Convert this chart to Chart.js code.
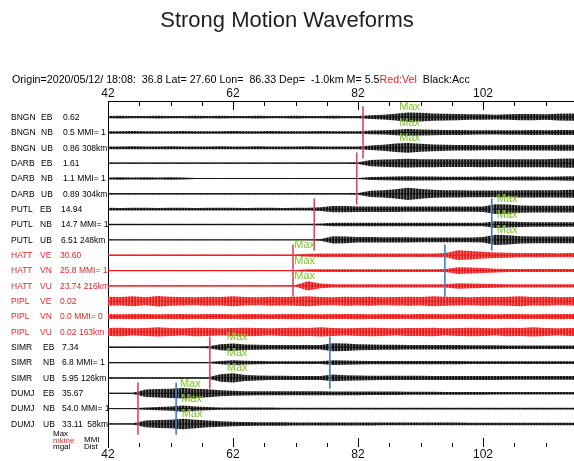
<!DOCTYPE html>
<html>
<head>
<meta charset="utf-8">
<title>Strong Motion Waveforms</title>
<script src="https://cdn.jsdelivr.net/npm/chart.js@4.4.1/dist/chart.umd.min.js"></script>
<style>
  html, body { margin: 0; padding: 0; background: #fff; overflow: hidden; }
  #wrap { width: 574px; height: 461px; overflow: hidden; }
  canvas { display: block; }
</style>
</head>
<body>
<div id="wrap"><canvas id="wave" width="600" height="461"></canvas></div>
<script>
// event header
const originTime = '2020/05/12/ 18:08:  36.8';
const lat = '27.60';
const lon = '86.33';
const depth = '-1.0';
const magnitude = '5.5';

// stations, top to bottom
const stations = ['BNGN', 'DARB', 'PUTL', 'HATT', 'PIPL', 'SIMR', 'DUMJ'];
const units = ['acc', 'acc', 'acc', 'vel', 'vel', 'acc', 'acc'];
const components = { acc: ['EB', 'NB', 'UB'], vel: ['VE', 'VN', 'VU'] };
const peakValues = ['0.62', '0.5', '0.86', '1.61', '1.1', '0.89', '14.94', '14.7', '6.51',
  '30.60', '25.8', '23.74', '0.02', '0.0', '0.02', '7.34', '6.8', '5.95', '35.67', '54.0', '33.11'];
const mmi = [1, 1, 1, 1, 0, 1, 1];
const distKm = [308, 304, 248, 216, 163, 126, 58];

// phase picks (seconds), null = none
const pTimes = [82.8, 81.8, 75.0, 71.6, null, 58.3, 46.8];
const sTimes = [null, null, 103.4, 95.9, null, 77.5, 52.9];
// time of peak per trace
const maxTimes = [88.6, 88.6, 88.6, null, null, null, 104.2, 104.2, 104.2,
  71.8, 71.8, 71.8, null, null, null, 61.0, 61.0, 61.0, 53.5, 53.7, 53.8];

const xTicks = [42, 62, 82, 102];

// envelope sample times
const times = [42, 44, 46, 48, 50, 52, 54, 56, 58, 60,
  62, 64, 66, 68, 70, 72, 74, 76, 78, 80,
  82, 84, 86, 88, 90, 92, 94, 96, 98, 100,
  102, 104, 106, 108, 110, 112, 114, 116, 118];

// half amplitude of each trace, in hundredths of the trace spacing
const bngnEB = [8, 9, 8, 8, 9, 8, 8, 9, 8, 9,  8, 8, 9, 8, 8, 9, 8, 8, 9, 8,  8, 12, 15, 22, 30, 28, 24, 22, 20, 18,  18, 16, 18, 20, 20, 18, 22, 24, 22];
const bngnNB = [8, 8, 9, 8, 8, 8, 9, 8, 8, 8,  9, 8, 8, 9, 8, 8, 8, 9, 8, 8,  8, 12, 14, 18, 22, 20, 18, 16, 16, 15,  14, 14, 15, 15, 16, 15, 16, 16, 15];
const bngnUB = [9, 9, 10, 9, 9, 10, 9, 9, 9, 10,  9, 9, 10, 9, 9, 9, 10, 9, 9, 9,  9, 15, 20, 28, 32, 26, 22, 20, 18, 18,  16, 16, 18, 18, 18, 18, 20, 20, 18];
const darbEB = [4, 4, 4, 4, 4, 4, 4, 4, 4, 4,  4, 4, 4, 4, 4, 4, 4, 4, 4, 4,  6, 20, 24, 26, 28, 26, 26, 25, 25, 25,  26, 25, 26, 26, 26, 26, 28, 30, 28];
const darbNB = [7, 8, 7, 8, 7, 8, 7, 3, 3, 3,  3, 3, 3, 3, 3, 3, 3, 3, 3, 3,  3, 10, 12, 13, 14, 13, 13, 12, 12, 12,  13, 12, 12, 13, 13, 12, 13, 14, 13];
const darbUB = [5, 5, 5, 5, 5, 5, 5, 5, 5, 5,  5, 5, 5, 5, 5, 5, 5, 5, 5, 5,  6, 20, 24, 30, 40, 32, 26, 24, 24, 22,  22, 22, 22, 24, 24, 24, 24, 26, 24];
const putlEB = [9, 8, 9, 9, 8, 9, 9, 8, 9, 9,  9, 8, 9, 9, 8, 9, 9, 12, 20, 20,  18, 18, 18, 18, 17, 17, 17, 17, 17, 17,  18, 32, 30, 24, 22, 22, 22, 22, 22];
const putlNB = [5, 5, 5, 5, 5, 5, 5, 5, 5, 5,  5, 5, 5, 5, 5, 5, 5, 7, 12, 12,  12, 12, 11, 11, 11, 11, 11, 11, 11, 11,  12, 22, 20, 16, 15, 15, 15, 15, 15];
const putlUB = [3, 3, 3, 3, 3, 3, 3, 3, 3, 3,  3, 3, 3, 3, 3, 3, 3, 6, 24, 22,  18, 18, 17, 17, 17, 16, 16, 16, 16, 16,  18, 34, 30, 24, 22, 22, 22, 22, 22];
const hattVE = [5, 5, 5, 5, 5, 5, 5, 5, 5, 5,  5, 5, 5, 5, 5, 5, 10, 11, 11, 11,  11, 11, 11, 11, 11, 11, 11, 14, 32, 28,  22, 18, 16, 14, 14, 14, 12, 14, 12];
const hattVN = [4, 4, 4, 4, 4, 4, 4, 4, 4, 4,  4, 4, 4, 4, 4, 4, 8, 9, 9, 9,  9, 9, 9, 9, 9, 9, 9, 10, 22, 20,  16, 12, 10, 10, 10, 10, 10, 10, 10];
const hattVU = [4, 4, 4, 4, 4, 4, 4, 4, 4, 4,  4, 4, 4, 4, 4, 6, 30, 16, 10, 10,  10, 10, 10, 10, 10, 10, 10, 10, 18, 16,  14, 12, 10, 10, 10, 10, 10, 10, 10];
const piplVE = [30, 28, 32, 26, 34, 30, 28, 26, 30, 28,  32, 28, 26, 30, 28, 30, 32, 28, 26, 30,  28, 30, 26, 28, 30, 28, 32, 30, 28, 26,  30, 28, 30, 32, 28, 30, 26, 28, 30];
const piplVN = [16, 15, 17, 16, 15, 16, 17, 15, 16, 16,  15, 17, 16, 15, 16, 17, 16, 15, 16, 16,  17, 15, 16, 16, 15, 17, 16, 15, 16, 16,  17, 15, 16, 16, 15, 16, 17, 16, 15];
const piplVU = [26, 28, 24, 26, 30, 26, 24, 28, 26, 24,  26, 28, 26, 24, 26, 28, 26, 30, 26, 24,  26, 28, 26, 24, 26, 26, 28, 24, 26, 28,  26, 24, 28, 26, 30, 26, 24, 26, 28];
const simrEB = [5, 5, 5, 5, 5, 5, 5, 5, 6, 20,  24, 18, 16, 14, 14, 14, 14, 15, 26, 24,  20, 18, 16, 16, 15, 15, 14, 14, 14, 13,  13, 13, 12, 12, 12, 12, 12, 12, 12];
const simrNB = [4, 4, 4, 4, 4, 4, 4, 4, 4, 10,  16, 12, 10, 9, 9, 9, 9, 9, 16, 14,  12, 11, 10, 10, 10, 10, 10, 10, 10, 9,  9, 9, 9, 9, 9, 9, 9, 9, 9];
const simrUB = [5, 5, 5, 5, 5, 5, 5, 5, 5, 24,  30, 20, 16, 14, 14, 13, 13, 13, 22, 18,  16, 15, 14, 14, 14, 14, 13, 13, 13, 13,  13, 13, 12, 12, 12, 12, 12, 12, 12];
const dumjEB = [4, 4, 4, 24, 28, 30, 34, 30, 26, 20,  16, 14, 13, 13, 13, 13, 13, 13, 12, 12,  12, 11, 11, 11, 10, 10, 10, 9, 9, 9,  9, 8, 8, 8, 8, 8, 8, 8, 8];
const dumjNB = [3, 3, 3, 8, 10, 14, 20, 14, 10, 8,  7, 7, 7, 7, 6, 6, 6, 6, 6, 6,  6, 6, 6, 6, 6, 6, 5, 5, 5, 5,  5, 5, 5, 5, 5, 5, 5, 5, 5];
const dumjUB = [4, 4, 4, 22, 26, 28, 34, 28, 22, 18,  15, 13, 12, 11, 11, 10, 10, 10, 10, 10,  10, 10, 9, 9, 9, 9, 9, 9, 9, 8,  8, 8, 8, 8, 8, 8, 8, 8, 8];

const traceAmps = [bngnEB, bngnNB, bngnUB, darbEB, darbNB, darbUB, putlEB, putlNB, putlUB,
  hattVE, hattVN, hattVU, piplVE, piplVN, piplVU, simrEB, simrNB, simrUB, dumjEB, dumjNB, dumjUB];

const FONT = '"Liberation Sans", Arial, Helvetica, sans-serif';
const COLORS = {
  acc: '#111111',
  vel: '#f01818',
  velText: '#e3262a',
  pick: '#dc4660',
  sPick: '#3f7cc4',
  max: '#7cc520'
};

function traceColor(i) {
  return units[Math.floor(i / 3)] === 'vel' ? COLORS.vel : COLORS.acc;
}

// thin vertical hatching so a band reads like a dense wiggle trace
function hatch(color) {
  const c = document.createElement('canvas');
  c.width = 3;
  c.height = 1;
  const g = c.getContext('2d');
  g.fillStyle = color;
  g.fillRect(0, 0, 1, 1);
  g.globalAlpha = 0.6;
  g.fillRect(1, 0, 1, 1);
  g.globalAlpha = 0.9;
  g.fillRect(2, 0, 1, 1);
  return g.createPattern(c, 'repeat');
}
const fills = { acc: hatch(COLORS.acc), vel: hatch(COLORS.vel) };

// each trace: baseline plus an envelope band around it
const datasets = [];
traceAmps.forEach((amp, i) => {
  const u = units[Math.floor(i / 3)];
  const color = traceColor(i);
  datasets.push({
    data: times.map((t, k) => ({ x: t, y: i - amp[k] / 100 })),
    borderWidth: 0,
    pointRadius: 0,
    tension: 0,
    fill: false
  });
  datasets.push({
    data: times.map((t, k) => ({ x: t, y: i + amp[k] / 100 })),
    borderWidth: 0,
    pointRadius: 0,
    tension: 0,
    fill: '-1',
    backgroundColor: fills[u]
  });
  datasets.push({
    data: times.map(t => ({ x: t, y: i })),
    borderColor: color,
    borderWidth: 1,
    pointRadius: 0,
    fill: false
  });
});

const overlay = {
  id: 'overlay',
  afterDraw(chart) {
    const { ctx, chartArea, scales } = chart;
    const x = scales.x;
    const y = scales.y;
    ctx.save();

    // tick marks, pointing into the plot
    ctx.strokeStyle = '#000';
    ctx.lineWidth = 1;
    for (let v = 42; v <= x.max; v += 5) {
      const px = Math.round(x.getPixelForValue(v)) + 0.5;
      const major = (v - 42) % 20 === 0;
      ctx.beginPath();
      ctx.moveTo(px, chartArea.top);
      ctx.lineTo(px, chartArea.top + (major ? 9 : 5));
      ctx.moveTo(px, chartArea.bottom);
      ctx.lineTo(px, chartArea.bottom - (major ? 9 : 4));
      ctx.stroke();
    }

    // phase picks
    ctx.lineWidth = 1.6;
    stations.forEach((s, n) => {
      const top = Math.max(y.getPixelForValue(n * 3 - 0.7), chartArea.top + 4);
      const bottom = y.getPixelForValue(n * 3 + 2.7);
      [[pTimes[n], COLORS.pick], [sTimes[n], COLORS.sPick]].forEach(([t, c]) => {
        if (t === null) return;
        const px = x.getPixelForValue(t);
        ctx.strokeStyle = c;
        ctx.beginPath();
        ctx.moveTo(px, top);
        ctx.lineTo(px, bottom);
        ctx.stroke();
      });
    });

    // peak markers
    ctx.font = '11px ' + FONT;
    ctx.fillStyle = COLORS.max;
    ctx.textBaseline = 'middle';
    ctx.textAlign = 'left';
    maxTimes.forEach((t, i) => {
      if (t === null) return;
      ctx.fillText('Max', x.getPixelForValue(t), y.getPixelForValue(i - 0.64));
    });

    // trace labels
    const compX = { BNGN: 41, DARB: 41, PUTL: 40, HATT: 40, PIPL: 40, SIMR: 43, DUMJ: 43 };
    const valX = { BNGN: 63, DARB: 63, PUTL: 61, HATT: 60, PIPL: 60, SIMR: 62, DUMJ: 62 };
    ctx.font = '8.5px ' + FONT;
    stations.forEach((s, n) => {
      const u = units[n];
      ctx.fillStyle = u === 'vel' ? COLORS.velText : '#000';
      for (let j = 0; j < 3; j++) {
        const i = n * 3 + j;
        const py = y.getPixelForValue(i) + 0.5;
        let val = peakValues[i];
        if (j === 1) val += ' MMI= ' + mmi[n];
        if (j === 2) val += ' ' + String(distKm[n]).padStart(3, ' ') + 'km';
        ctx.fillText(s, 11, py);
        ctx.fillText(components[u][j], compX[s], py);
        ctx.fillText(val, valX[s], py);
      }
    });

    // column key under the labels
    ctx.font = '8px ' + FONT;
    ctx.fillStyle = '#000';
    ctx.fillText('Max', 53, 434);
    ctx.fillStyle = COLORS.velText;
    ctx.fillText('mkine', 53, 440.5);
    ctx.fillStyle = '#000';
    ctx.fillText('mgal', 53, 447);
    ctx.fillText('MMI', 84, 440);
    ctx.fillText('Dist', 84, 446.5);

    // title and event header
    ctx.textAlign = 'center';
    ctx.fillStyle = '#1e1e1e';
    ctx.font = '22px ' + FONT;
    ctx.fillText('Strong Motion Waveforms', 287, 21);

    ctx.textAlign = 'left';
    ctx.font = '10.7px ' + FONT;
    const head = 'Origin=' + originTime + ' Lat= ' + lat + ' Lon=  ' + lon +
      ' Dep=  ' + depth + 'km M= ' + magnitude;
    let hx = 12;
    ctx.fillStyle = '#000';
    ctx.fillText(head, hx, 80);
    hx += ctx.measureText(head).width;
    ctx.fillStyle = COLORS.velText;
    ctx.fillText('Red:Vel', hx, 80);
    hx += ctx.measureText('Red:Vel').width;
    ctx.fillStyle = '#000';
    ctx.fillText('  Black:Acc', hx, 80);

    ctx.restore();
  }
};

const axisTicks = {
  display: true,
  padding: 0,
  color: '#111',
  autoSkip: false,
  maxRotation: 0,
  font: { family: FONT, size: 12 }
};

new Chart(document.getElementById('wave'), {
  type: 'line',
  data: { datasets },
  options: {
    responsive: false,
    animation: false,
    events: [],
    layout: { padding: { top: 84, right: 17, bottom: 0, left: 0 } },
    plugins: {
      legend: { display: false },
      tooltip: { enabled: false },
      title: { display: false }
    },
    scales: {
      x: {
        type: 'linear',
        position: 'top',
        min: 42,
        max: 118,
        afterBuildTicks: s => { s.ticks = xTicks.map(v => ({ value: v })); },
        afterFit: s => { s.height = 17; },
        grid: { display: false, drawTicks: false },
        border: { display: true, color: '#000', width: 1 },
        ticks: axisTicks
      },
      x2: {
        type: 'linear',
        position: 'bottom',
        min: 42,
        max: 118,
        afterBuildTicks: s => { s.ticks = xTicks.map(v => ({ value: v })); },
        afterFit: s => { s.height = 14; },
        grid: { display: false, drawTicks: false },
        border: { display: false },
        ticks: axisTicks
      },
      y: {
        type: 'linear',
        position: 'left',
        min: -1.05,
        max: 21.5,
        reverse: true,
        afterFit: s => { s.width = 108; },
        grid: { display: false, drawTicks: false },
        border: { display: true, color: '#000', width: 1 },
        ticks: { display: false }
      }
    }
  },
  plugins: [overlay]
});
</script>
</body>
</html>
